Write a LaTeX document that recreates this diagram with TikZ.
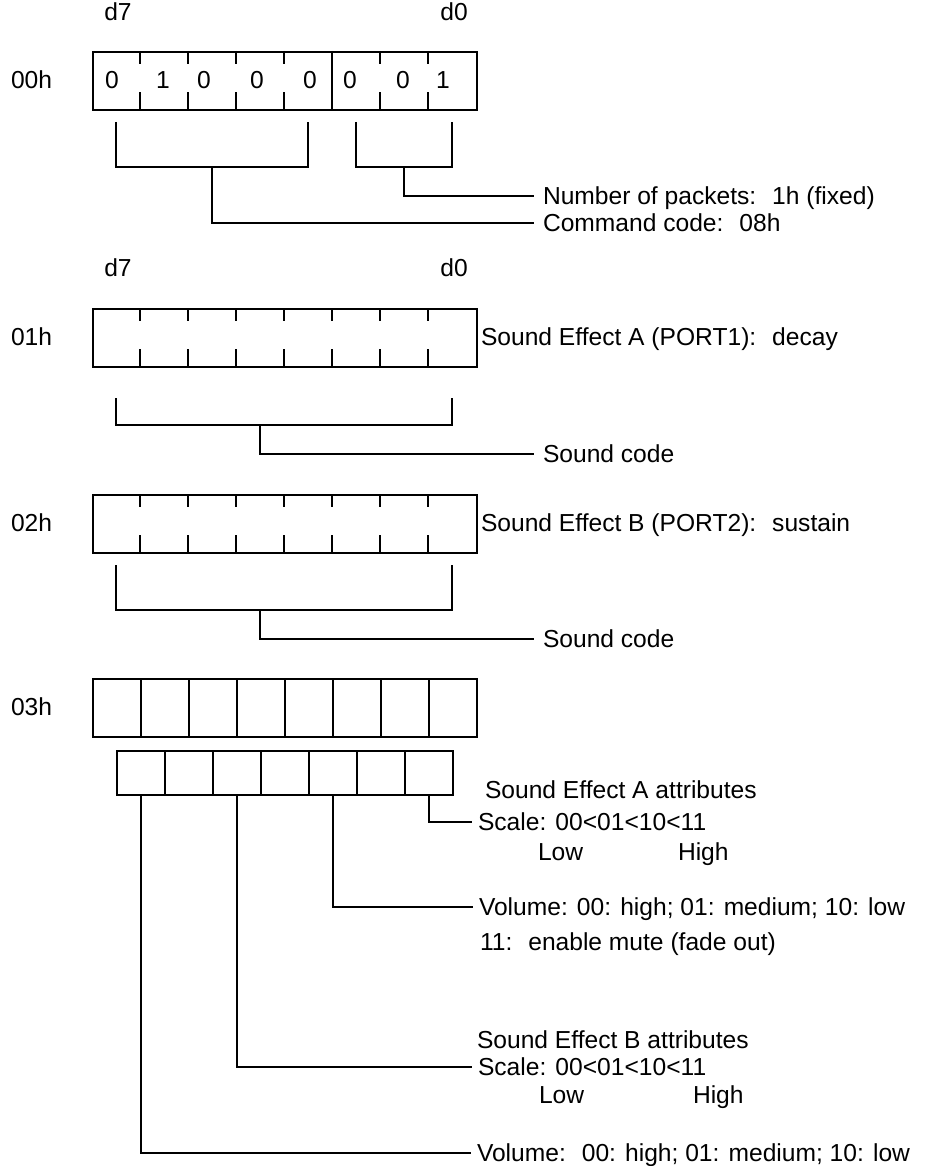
\documentclass[tikz,border=0pt]{standalone}
\usepackage{fontspec}
\setmainfont{Liberation Sans}
\usetikzlibrary{positioning, calc}

\tikzset{
  reg/.style={draw, minimum width=384pt, minimum height=58pt, inner sep=0pt, anchor=north west},
  cell/.style={draw, minimum width=48pt, minimum height=58pt, inner sep=0pt, anchor=north west},
  subcell/.style={draw, minimum width=48pt, minimum height=43.5pt, inner sep=0pt, anchor=north west},
  lbl/.style={anchor=west, inner sep=0pt, text height=17.5pt, text depth=0pt},
  tag/.style={inner sep=0pt, text height=17.5pt, text depth=0pt},
}

\begin{document}
\begin{tikzpicture}[x=1pt, y=-1pt, line width=2pt, font=\fontsize{24.6}{29}\selectfont]
\useasboundingbox (0,0) rectangle (946,1166);

% ===== 00h =====
\node[tag] (d7a) at (118,12) {d7};
\node[tag] (d0a) at (454,12) {d0};
\node[lbl] (a00) at (10,80) {00h};
\node[reg] (r00) at (92,51) {};
\foreach \i in {1,2,3,4,6,7} {
  \draw ({92+48*\i},51) -- ++(0,13);
  \draw ({92+48*\i},109) -- ++(0,-17);
}
\draw (332,51) -- (332,109);
\foreach \x/\b [count=\k] in {112/0,163/1,204/0,257/0,310/0,350/0,403/0,443/1}
  \node[tag] (bit\k) at (\x,80) {\b};

% fields
\draw (116,122) |- (308,167) -- (308,122);
\draw (356,122) |- (452,167) -- (452,122);
\coordinate (j00a) at (212,167);
\coordinate (j00b) at (404,167);
\node[lbl] (npk) at (542,196) {Number of packets:~ 1h (fixed)};
\node[lbl] (cmd) at (542,223) {Command code:~ 08h};
\draw (j00b) |- ([xshift=-8pt]npk.west);
\draw (j00a) |- ([xshift=-8pt]cmd.west);

% ===== 01h =====
\node[tag] (d7b) at (118,268) {d7};
\node[tag] (d0b) at (454,268) {d0};
\node[lbl] (a01) at (10,337) {01h};
\node[reg] (r01) at (92,308) {};
\foreach \i in {1,...,7} {
  \draw ({92+48*\i},308) -- ++(0,13);
  \draw ({92+48*\i},366) -- ++(0,-17);
}
\node[lbl] (sea) at (480,337) {Sound Effect A (PORT1):~ decay};
\draw (116,398) |- (452,425) -- (452,398);
\coordinate (j01) at (260,425);
\node[lbl] (sc1) at (542,454) {Sound code};
\draw (j01) |- ([xshift=-8pt]sc1.west);

% ===== 02h =====
\node[lbl] (a02) at (10,523) {02h};
\node[reg] (r02) at (92,494) {};
\foreach \i in {1,...,7} {
  \draw ({92+48*\i},494) -- ++(0,13);
  \draw ({92+48*\i},552) -- ++(0,-17);
}
\node[lbl] (seb) at (480,523) {Sound Effect B (PORT2):~ sustain};
\draw (116,565) |- (452,610) -- (452,565);
\coordinate (j02) at (260,610);
\node[lbl] (sc2) at (542,639) {Sound code};
\draw (j02) |- ([xshift=-8pt]sc2.west);

% ===== 03h =====
\node[lbl] (a03) at (10,707) {03h};
\foreach \i in {0,...,7}
  \node[cell] (c\i) at ({92+48*\i},678) {};
\foreach \i in {1,...,7}
  \node[subcell] (s\i) at ({68+48*\i},750) {};

% attributes
\node[lbl] (atA) at (484,790) {Sound Effect A attributes};
\node[lbl] (scA) at (477,822) {Scale: 00<01<10<11};
\node[lbl] (loA) at (537,852) {Low};
\node[lbl] (hiA) at (677,852) {High};
\node[lbl] (voA) at (478,907) {Volume: 00: high; 01: medium; 10: low};
\node[lbl] (muA) at (479,942) {11:~ enable mute (fade out)};
\node[lbl] (atB) at (476,1040) {Sound Effect B attributes};
\node[lbl] (scB) at (477,1067) {Scale: 00<01<10<11};
\node[lbl] (loB) at (538,1095) {Low};
\node[lbl] (hiB) at (692,1095) {High};
\node[lbl] (voB) at (476,1153) {Volume:~ 00: high; 01: medium; 10: low};

\draw (s7.south) |- ([xshift=-5pt]scA.west);
\draw (s5.south) |- ([xshift=-5pt]voA.west);
\draw (s3.south) |- ([xshift=-5pt]scB.west);
\draw (s1.south) |- ([xshift=-5pt]voB.west);

\end{tikzpicture}
\end{document}
